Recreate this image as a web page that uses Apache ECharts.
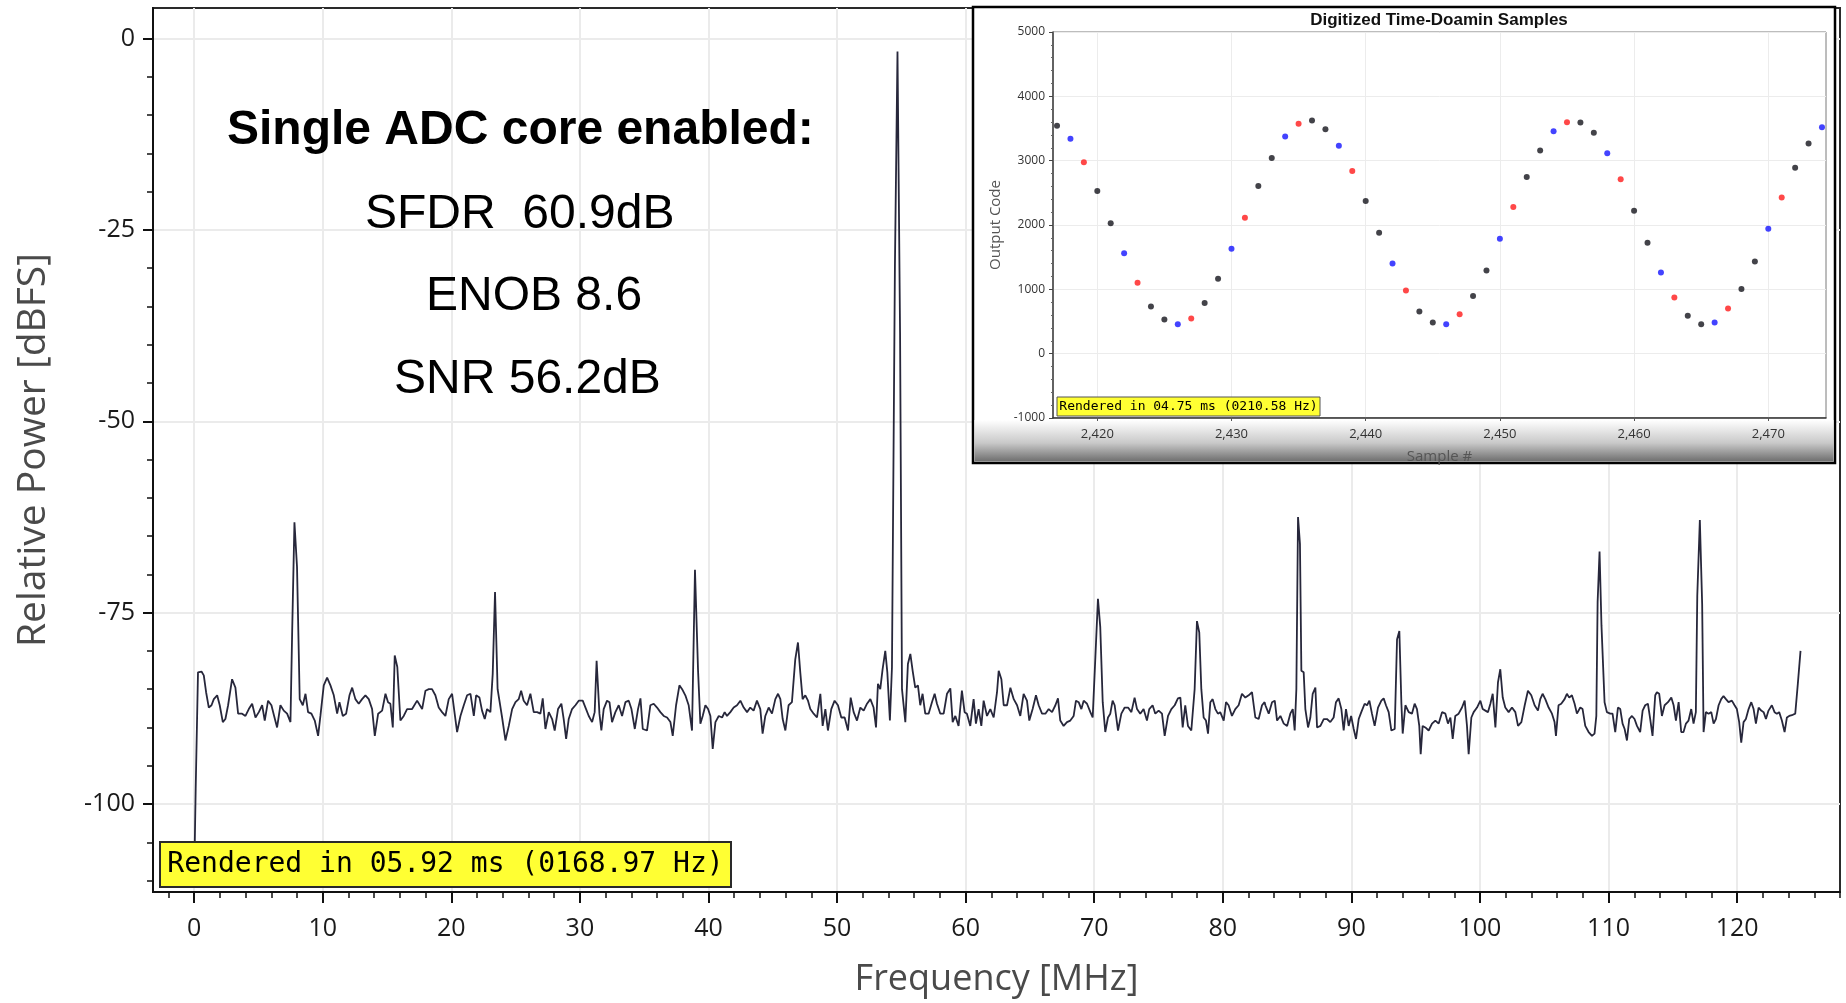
<!DOCTYPE html>
<html>
<head>
<meta charset="utf-8">
<title>Single ADC core spectrum</title>
<script src="https://cdn.jsdelivr.net/npm/echarts@6/dist/echarts.min.js"></script>
<style>
html, body { margin: 0; padding: 0; background: #fff; }
#fft { width: 1846px; height: 1003px; }
</style>
</head>
<body>
<div id="fft"></div>
<script type="text/javascript">
// FFT trace (MHz / dBFS)
var freqMHz = [
  0, 0.12, 0.3, 0.57, 0.75, 0.93, 1.14, 1.35, 1.53, 1.79,
  1.99, 2.23, 2.43, 2.64, 2.95, 3.21, 3.42, 3.73, 3.99, 4.25,
  4.51, 4.77, 5.03, 5.29, 5.49, 5.75, 6.01, 6.22, 6.45, 6.71,
  6.97, 7.23, 7.49, 7.62, 7.8, 8.0, 8.21, 8.45, 8.66, 8.86,
  9.12, 9.38, 9.64, 9.82, 10.08, 10.34, 10.6, 10.86, 11.12, 11.3,
  11.56, 11.82, 12.08, 12.29, 12.54, 12.8, 13.06, 13.32, 13.58, 13.84,
  14.05, 14.31, 14.62, 14.88, 15.08, 15.26, 15.45, 15.6, 15.8, 16.04,
  16.3, 16.56, 16.95, 17.34, 17.73, 17.99, 18.25, 18.5, 18.76, 19.02,
  19.28, 19.54, 19.8, 20.06,
  20.45, 20.71, 20.97, 21.23, 21.49, 21.75, 21.93, 22.19, 22.39, 22.6,
  22.78, 23.04, 23.22, 23.4, 23.6, 23.95, 24.21, 24.47, 24.73, 24.99,
  25.24, 25.43, 25.63, 25.89, 26.15, 26.41, 26.67, 26.93, 27.11, 27.32,
  27.58, 27.84, 28.04, 28.3, 28.56, 28.74, 28.93, 29.13, 29.39, 29.65,
  29.91, 30.22, 30.48, 30.69, 30.95, 31.15, 31.3, 31.52, 31.67, 31.85,
  32.11, 32.3, 32.5, 32.76, 33.02, 33.28, 33.54, 33.8, 34.01, 34.27,
  34.52, 34.71, 34.89, 35.22, 35.48, 35.74, 36.0, 36.26, 36.52, 36.78,
  37.04, 37.22, 37.48, 37.74, 37.95, 38.2, 38.46, 38.72, 38.95, 39.19,
  39.37, 39.55, 39.76, 39.97, 40.15, 40.33, 40.54, 40.8, 41.06, 41.26,
  41.44, 41.7, 41.96, 42.22, 42.48, 42.74, 43.0, 43.25, 43.51, 43.77,
  44.03, 44.21, 44.42, 44.68, 44.94, 45.2, 45.41, 45.59, 45.77, 45.98,
  46.23, 46.49, 46.75, 46.96, 47.14, 47.32, 47.53, 47.74, 47.92, 48.18,
  48.44, 48.7, 48.88, 49.09, 49.29, 49.55, 49.81, 50.07, 50.33, 50.59,
  50.85, 51.06, 51.29, 51.55, 51.81, 52.07, 52.33, 52.59, 52.84, 53.03,
  53.18, 53.36, 53.54, 53.75, 53.91, 54.11, 54.27, 54.5, 54.7, 54.9,
  55.05, 55.31, 55.51, 55.7, 55.88, 56.08, 56.29, 56.47, 56.65, 56.86,
  57.12, 57.38, 57.59, 57.77, 58.03, 58.29, 58.55, 58.81, 58.99, 59.2,
  59.45, 59.71, 59.92, 60.1, 60.36, 60.62, 60.8, 61.01, 61.22, 61.4,
  61.66, 61.92, 62.18,
  62.31, 62.44, 62.57, 62.78, 62.96, 63.22, 63.48, 63.74, 64.0, 64.25,
  64.51, 64.77, 64.95, 65.21, 65.47, 65.68, 65.94, 66.2, 66.46, 66.72,
  66.98, 67.18, 67.36, 67.62, 67.88, 68.14, 68.4, 68.58, 68.79, 69.0,
  69.18, 69.44, 69.7, 69.88, 70.09, 70.29, 70.47, 70.66, 70.86, 71.07,
  71.25, 71.43, 71.59, 71.85, 72.11, 72.37, 72.63, 72.89, 73.14, 73.33,
  73.58, 73.84, 74.1, 74.28, 74.54, 74.75, 75.01, 75.27, 75.48, 75.74,
  76.0, 76.26, 76.51, 76.7, 76.88, 77.08, 77.29, 77.55, 77.81, 77.99,
  78.17, 78.33, 78.51, 78.69, 78.85, 79.03, 79.21, 79.42, 79.62, 79.8,
  80.07, 80.25, 80.45, 80.71, 80.97, 81.23, 81.49, 81.75, 82.01, 82.27,
  82.53, 82.79, 83.05, 83.25,
  83.31, 83.57, 83.83, 84.04, 84.22, 84.48, 84.74, 85.0, 85.25, 85.44,
  85.59, 85.72, 85.85, 86.0, 86.11, 86.29, 86.42, 86.63, 86.81, 86.99,
  87.2, 87.33, 87.59, 87.85, 88.1, 88.36, 88.62, 88.8, 89.01, 89.22,
  89.4, 89.58, 89.79, 89.98, 90.18, 90.36, 90.57, 90.77, 91.03, 91.22,
  91.4, 91.6, 91.81, 92.07, 92.33, 92.51, 92.69, 92.9, 93.11, 93.37,
  93.55, 93.73, 93.89, 93.99, 94.2, 94.46, 94.71, 94.92, 95.1, 95.28,
  95.39, 95.54, 95.75, 96.01, 96.27, 96.53, 96.79, 97.05, 97.31, 97.51,
  97.7, 97.88, 98.08, 98.34, 98.6, 98.81, 98.99, 99.12, 99.33, 99.51,
  99.77, 100.03, 100.21, 100.42, 100.62, 100.81, 100.99, 101.2, 101.4, 101.58,
  101.77, 101.97, 102.23, 102.49, 102.75, 102.96, 103.22, 103.48, 103.73, 103.99,
  104.25,
  104.51, 104.69, 104.87, 105.08, 105.34, 105.6, 105.8, 105.91, 106.11, 106.32,
  106.58, 106.76, 106.94, 107.15, 107.36, 107.54, 107.8, 107.98, 108.19, 108.45,
  108.71, 108.91, 109.05, 109.15, 109.3, 109.45, 109.69, 109.87, 110.13, 110.31,
  110.52, 110.73, 110.91, 111.09, 111.25, 111.43, 111.61, 111.82, 112.02, 112.21,
  112.46, 112.65, 112.85, 113.06, 113.24, 113.42, 113.63, 113.76, 113.94, 114.15,
  114.36, 114.62, 114.88, 115.06, 115.24, 115.45, 115.65, 115.83, 116.02, 116.22,
  116.43, 116.61, 116.79, 116.9, 117.1, 117.28, 117.39, 117.57, 117.78, 117.99,
  118.17, 118.35, 118.56, 118.76, 118.94, 119.13, 119.33, 119.59, 119.8, 119.98,
  120.16, 120.32, 120.5, 120.68, 120.89, 121.1, 121.28, 121.46, 121.67, 121.87,
  122.06, 122.24, 122.44, 122.7, 122.91, 123.09, 123.27, 123.48, 123.69, 123.87,
  124.05, 124.26, 124.52, 124.72, 124.93
];
var powerDb = [
  -110, -98, -82.8, -82.7, -83.2, -85.4, -87.4, -87.1, -86.3, -85.8,
  -87.1, -89.3, -88.9, -87.1, -83.7, -84.8, -88.2, -88.2, -88.5, -87.6,
  -86.9, -88.7, -88.0, -87.1, -89.1, -86.5, -87.1, -88.5, -90.0, -87.1,
  -87.8, -88.2, -89.3, -77.8, -63.2, -69.0, -86.3, -87.1, -85.6, -88.0,
  -88.2, -89.1, -91.1, -88.5, -84.5, -83.5, -84.5, -85.8, -88.2, -86.7,
  -88.5, -88.2, -85.8, -84.8, -86.3, -86.9, -86.3, -85.8, -86.3, -87.6,
  -91.1, -88.2, -87.8, -85.6, -86.7, -86.9, -90.0, -80.6, -82.1, -89.1,
  -88.5, -87.6, -87.6, -86.5, -87.6, -85.2, -85.0, -85.0, -85.8, -87.4,
  -88.0, -88.5, -86.3, -85.6,
  -90.6, -88.5, -87.1, -85.8, -85.6, -88.5, -85.8, -86.1, -87.8, -88.9,
  -87.6, -88.0, -83.0, -72.3, -85.0, -88.7, -91.7, -89.8, -87.6, -86.7,
  -86.3, -85.2, -86.5, -87.1, -85.6, -88.0, -88.0, -88.2, -86.2, -90.2,
  -88.0, -88.9, -90.4, -87.6, -86.9, -88.9, -91.5, -88.9, -87.6, -87.1,
  -86.5, -86.5, -87.6, -88.5, -89.3, -88.0, -81.3, -88.2, -90.4, -87.6,
  -86.5, -86.7, -89.3, -88.0, -87.1, -88.5, -86.7, -86.5, -87.6, -90.2,
  -87.6, -86.2, -90.2, -90.4, -87.1, -86.9, -87.4, -88.0, -88.5, -88.7,
  -89.3, -91.1, -87.1, -84.5, -85.0, -85.8, -87.1, -90.4, -69.4, -82.6,
  -89.5, -88.5, -87.1, -87.6, -88.5, -92.8, -89.3, -88.5, -88.7, -88.0,
  -88.5, -88.0, -87.4, -87.1, -86.5, -87.4, -88.0, -87.4, -87.8, -86.5,
  -87.6, -90.8, -88.5, -87.4, -88.2, -86.3, -85.6, -86.3, -88.9, -90.4,
  -87.1, -86.7, -81.1, -78.9, -82.8, -86.3, -85.8, -86.5, -87.6, -88.2,
  -88.7, -85.6, -89.8, -87.6, -90.4, -87.6, -86.5, -87.1, -88.7, -88.7,
  -90.4, -86.1, -88.0, -89.1, -87.4, -87.8, -86.9, -86.3, -87.4, -90.0,
  -84.3, -85.0, -82.4, -80.0, -82.8, -89.1, -82.1, -29.7, -1.7, -38.4,
  -85.0, -89.3, -81.7, -80.4, -82.6, -84.8, -84.5, -87.1, -85.6, -88.2,
  -88.2, -86.7, -85.6, -86.9, -88.2, -88.2, -85.6, -84.9, -89.3, -88.5,
  -89.8, -85.2, -88.0, -88.2, -89.8, -86.3, -89.5, -87.6, -89.8, -86.5,
  -88.5, -87.6, -88.7,
  -88.9, -85.4, -82.6, -83.7, -87.1, -87.1, -84.8, -86.3, -87.1, -88.5,
  -85.6, -86.5, -89.1, -87.6, -85.8, -87.1, -88.2, -88.2, -87.6, -88.0,
  -87.1, -86.2, -89.1, -89.8, -89.3, -89.1, -88.5, -86.5, -86.7, -87.6,
  -86.5, -86.9, -88.0, -88.7, -80.8, -73.2, -76.9, -86.7, -90.6, -88.7,
  -88.2, -86.5, -87.1, -90.4, -88.2, -87.4, -87.4, -88.0, -86.1, -87.6,
  -88.2, -87.6, -89.1, -87.6, -87.1, -88.2, -87.8, -88.2, -91.1, -88.5,
  -87.6, -87.1, -86.2, -86.1, -90.0, -87.1, -89.8, -90.4, -85.0, -76.1,
  -77.6, -85.0, -88.7, -89.1, -90.8, -86.7, -86.3, -87.6, -88.2, -88.0,
  -89.1, -86.7, -87.1, -88.5, -87.6, -87.1, -85.6, -86.1, -85.8, -85.4,
  -88.7, -88.9, -87.1, -86.7,
  -87.1, -88.2, -86.7, -86.5, -89.1, -88.5, -89.5, -89.8, -88.2, -87.6,
  -90.4, -85.0, -62.5, -66.0, -82.6, -82.8, -87.6, -90.0, -88.7, -85.6,
  -84.8, -90.0, -89.8, -88.9, -88.9, -89.3, -88.7, -86.7, -86.2, -87.6,
  -90.4, -87.6, -89.8, -88.5, -90.2, -91.5, -88.9, -88.0, -86.9, -87.1,
  -86.5, -88.2, -89.8, -87.4, -86.5, -86.2, -87.1, -88.0, -90.4, -90.2,
  -78.5, -77.4, -86.9, -90.8, -87.1, -88.0, -88.2, -86.9, -87.6, -89.8,
  -93.5, -89.8, -90.0, -90.4, -89.5, -89.1, -89.5, -88.0, -88.2, -89.5,
  -88.7, -91.5, -88.5, -88.2, -87.4, -86.5, -89.8, -93.5, -88.7, -88.0,
  -87.4, -86.5, -87.6, -87.8, -88.0, -86.9, -85.6, -90.0, -84.1, -82.4,
  -86.1, -87.4, -88.0, -87.4, -88.0, -89.8, -89.3, -87.1, -85.2, -85.8,
  -87.1,
  -87.8, -86.3, -85.6, -86.3, -87.4, -88.2, -89.3, -91.1, -87.1, -86.9,
  -86.3, -85.6, -86.1, -85.8, -86.9, -88.2, -87.4, -87.6, -89.8, -90.6,
  -91.1, -90.8, -88.5, -73.6, -67.0, -76.7, -86.7, -88.0, -88.2, -88.2,
  -90.6, -87.4, -87.6, -89.5, -90.2, -91.7, -88.9, -88.5, -88.9, -89.8,
  -90.6, -87.8, -87.1, -86.9, -88.9, -91.1, -85.8, -85.4, -85.6, -88.5,
  -87.1, -86.7, -86.1, -87.1, -89.1, -86.7, -90.6, -90.6, -89.5, -89.1,
  -87.6, -89.5, -88.0, -72.8, -62.9, -73.9, -90.6, -88.0, -88.2, -88.0,
  -89.5, -88.9, -87.1, -86.3, -85.9, -86.3, -86.7, -86.5, -87.1, -87.6,
  -89.3, -92.0, -89.3, -88.9, -87.6, -86.7, -87.6, -89.5, -87.4, -87.8,
  -88.0, -88.9, -87.8, -87.1, -88.0, -88.2, -88.0, -89.1, -90.6, -88.7,
  -88.5, -88.4, -88.2, -84.3, -80.0
];
var freqTicks = [0, 10, 20, 30, 40, 50, 60, 70, 80, 90, 100, 110, 120];
var dbTicks = [0, -25, -50, -75, -100];

// inset: digitized time-domain samples
var sampleNo = [
  2417, 2418, 2419, 2420, 2421, 2422, 2423, 2424, 2425, 2426,
  2427, 2428, 2429, 2430, 2431, 2432, 2433, 2434, 2435, 2436,
  2437, 2438, 2439, 2440, 2441, 2442, 2443, 2444, 2445, 2446,
  2447, 2448, 2449, 2450, 2451, 2452, 2453, 2454, 2455, 2456,
  2457, 2458, 2459, 2460, 2461, 2462, 2463, 2464, 2465, 2466,
  2467, 2468, 2469, 2470, 2471, 2472, 2473, 2474
];
var outputCode = [
  3542, 3339, 2976, 2530, 2026, 1559, 1102, 734, 531, 459,
  547, 786, 1165, 1632, 2114, 2607, 3043, 3376, 3573, 3625,
  3490, 3230, 2841, 2374, 1881, 1403, 983, 656, 485, 459,
  614, 895, 1294, 1787, 2280, 2748, 3158, 3459, 3599, 3594,
  3433, 3116, 2711, 2223, 1725, 1263, 874, 589, 459, 485,
  703, 1004, 1434, 1943, 2426, 2888, 3267, 3521
];
var sampleLane = [
  'k', 'b', 'r', 'k', 'k', 'b', 'r', 'k', 'k', 'b', 'r', 'k',
  'k', 'b', 'r', 'k', 'k', 'b', 'r', 'k', 'k', 'b', 'r', 'k',
  'k', 'b', 'r', 'k', 'k', 'b', 'r', 'k', 'k', 'b', 'r', 'k',
  'k', 'b', 'r', 'k', 'k', 'b', 'r', 'k', 'k', 'b', 'r', 'k',
  'k', 'b', 'r', 'k', 'k', 'b', 'r', 'k', 'k', 'b'
];
var sampleTicks = [2420, 2430, 2440, 2450, 2460, 2470];

var laneColor = { k: '#14141c', b: '#1414ff', r: '#ff1a1a' };

// minor ticks (every 2 MHz / every 5 dB)
var freqMinor = [];
for (var f = -2; f <= 128; f += 2) freqMinor.push(f);
var dbMinor = [];
for (var d = 0; d >= -110; d -= 5) dbMinor.push(d);

function laneData(lane) {
  var out = [];
  for (var i = 0; i < sampleNo.length; i++) {
    if (sampleLane[i] === lane) out.push([sampleNo[i], outputCode[i]]);
  }
  return out;
}

var trace = [];
for (var i = 0; i < freqMHz.length; i++) trace.push([freqMHz[i], powerDb[i]]);

var uiFont = 'Open Sans';

var chart = echarts.init(document.getElementById('fft'));
chart.setOption({
  animation: false,
  backgroundColor: '#fff',
  grid: [
    { left: 153, top: 8, right: 6, bottom: 110, show: true, borderColor: '#2a2a2a', borderWidth: 2, z: 0 },
    { left: 1053, top: 32, width: 773, height: 386, show: true, borderColor: '#7a7a7a', borderWidth: 1, z: 7 }
  ],
  xAxis: [
    {
      gridIndex: 0, type: 'value', min: -3.2, max: 128, position: 'bottom',
      name: 'Frequency [MHz]', nameLocation: 'middle', nameGap: 70,
      nameTextStyle: { fontFamily: uiFont, fontSize: 36, color: '#4a4a4a' },
      axisLine: { show: true, onZero: false, lineStyle: { color: '#111', width: 2 } },
      axisTick: { show: true, customValues: freqTicks, length: 11, lineStyle: { color: '#111', width: 2 } },
      axisLabel: { customValues: freqTicks, margin: 24, fontFamily: uiFont, fontSize: 25, color: '#1a1a1a' },
      splitLine: { show: true, lineStyle: { color: '#ebebeb', width: 2 } }
    },
    {
      gridIndex: 0, type: 'value', min: -3.2, max: 128, position: 'bottom',
      axisLine: { show: false, onZero: false },
      axisTick: { show: true, customValues: freqMinor, length: 6, lineStyle: { color: '#111', width: 1.5 } },
      axisLabel: { show: false },
      splitLine: { show: false }
    },
    {
      gridIndex: 1, type: 'value', min: 2416.7, max: 2474.3, position: 'bottom', z: 8,
      name: 'Sample #', nameLocation: 'middle', nameGap: 31,
      nameTextStyle: { fontFamily: uiFont, fontSize: 15, color: '#555' },
      axisLine: { show: true, onZero: false, lineStyle: { color: '#333', width: 1.5 } },
      axisTick: { show: true, customValues: sampleTicks, length: 3, lineStyle: { color: '#555' } },
      axisLabel: { customValues: sampleTicks, margin: 10, fontFamily: uiFont, fontSize: 13, color: '#333' },
      splitLine: { show: true, lineStyle: { color: '#ececec', width: 1 } }
    }
  ],
  yAxis: [
    {
      gridIndex: 0, type: 'value', min: -111.5, max: 4, position: 'left',
      name: 'Relative Power [dBFS]', nameLocation: 'middle', nameGap: 100,
      nameTextStyle: { fontFamily: uiFont, fontSize: 39, color: '#4a4a4a' },
      axisLine: { show: true, onZero: false, lineStyle: { color: '#111', width: 2 } },
      axisTick: { show: true, customValues: dbTicks, length: 10, lineStyle: { color: '#111', width: 2 } },
      axisLabel: { customValues: dbTicks, margin: 18, fontFamily: uiFont, fontSize: 25, color: '#1a1a1a' },
      splitLine: { show: true, lineStyle: { color: '#ebebeb', width: 2 } }
    },
    {
      gridIndex: 0, type: 'value', min: -111.5, max: 4, position: 'left',
      axisLine: { show: false, onZero: false },
      axisTick: { show: true, customValues: dbMinor, length: 6, lineStyle: { color: '#111', width: 1.5 } },
      axisLabel: { show: false },
      splitLine: { show: false }
    },
    {
      gridIndex: 1, type: 'value', min: -1000, max: 5000, interval: 1000, position: 'left', z: 8,
      name: 'Output Code', nameLocation: 'middle', nameGap: 50,
      nameTextStyle: { fontFamily: uiFont, fontSize: 15, color: '#555' },
      axisLine: { show: true, onZero: false, lineStyle: { color: '#444', width: 1.5 } },
      axisTick: { show: true, length: 4, lineStyle: { color: '#444' } },
      minorTick: { show: true, splitNumber: 5, length: 2, lineStyle: { color: '#666' } },
      axisLabel: { margin: 8, fontFamily: uiFont, fontSize: 12, color: '#333',
        formatter: function (v) { return String(v); } },
      splitLine: { show: true, lineStyle: { color: '#ececec', width: 1 } }
    }
  ],
  series: [
    {
      name: 'FFT', type: 'line', xAxisIndex: 0, yAxisIndex: 0,
      data: trace, showSymbol: false, symbol: 'none', silent: true, z: 2,
      lineStyle: { color: '#27273b', width: 1.8 }
    },
    {
      name: 'core A', type: 'scatter', xAxisIndex: 2, yAxisIndex: 2, z: 9,
      data: laneData('k'), symbolSize: 6, itemStyle: { color: laneColor.k }
    },
    {
      name: 'core B', type: 'scatter', xAxisIndex: 2, yAxisIndex: 2, z: 9,
      data: laneData('b'), symbolSize: 6, itemStyle: { color: laneColor.b }
    },
    {
      name: 'core C', type: 'scatter', xAxisIndex: 2, yAxisIndex: 2, z: 9,
      data: laneData('r'), symbolSize: 6, itemStyle: { color: laneColor.r }
    }
  ],
  graphic: [
    // inset panel + grey band at its bottom
    { type: 'rect', z: 5, shape: { x: 973, y: 7, width: 862, height: 456 },
      style: { fill: '#fff', stroke: '#000', lineWidth: 2.5 } },
    { type: 'rect', z: 6, shape: { x: 974.5, y: 420, width: 859, height: 41.5 },
      style: { fill: new echarts.graphic.LinearGradient(0, 0, 0, 1, [
        { offset: 0, color: '#ffffff' }, { offset: 0.55, color: '#c9c9c9' }, { offset: 1, color: '#6e6e6e' }
      ]) } },
    { type: 'text', z: 20, x: 1439, y: 20,
      style: { text: 'Digitized Time-Doamin Samples', font: 'bold 17px "Liberation Sans"', fill: '#111',
        align: 'center', verticalAlign: 'middle' } },
    // annotation block
    { type: 'text', z: 10, x: 227, y: 131,
      style: { text: 'Single ADC core enabled:', font: 'bold 48px "Liberation Sans"', fill: '#000', verticalAlign: 'middle' } },
    { type: 'text', z: 10, x: 365, y: 215,
      style: { text: 'SFDR  60.9dB', font: '48px "Liberation Sans"', fill: '#000', verticalAlign: 'middle' } },
    { type: 'text', z: 10, x: 426, y: 297,
      style: { text: 'ENOB 8.6', font: '48px "Liberation Sans"', fill: '#000', verticalAlign: 'middle' } },
    { type: 'text', z: 10, x: 394, y: 380,
      style: { text: 'SNR 56.2dB', font: '48px "Liberation Sans"', fill: '#000', verticalAlign: 'middle' } },
    // render-time tags
    { type: 'rect', z: 10, shape: { x: 160, y: 842, width: 571, height: 45 },
      style: { fill: '#ffff33', stroke: '#2a2a2a', lineWidth: 2 } },
    { type: 'text', z: 11, x: 445.5, y: 865,
      style: { text: 'Rendered in 05.92 ms (0168.97 Hz)', font: '28px "DejaVu Sans Mono"', fill: '#000',
        align: 'center', verticalAlign: 'middle' } },
    { type: 'rect', z: 10, shape: { x: 1057, y: 397, width: 263, height: 19 },
      style: { fill: '#ffff33', stroke: '#555', lineWidth: 1 } },
    { type: 'text', z: 11, x: 1188.5, y: 406.5,
      style: { text: 'Rendered in 04.75 ms (0210.58 Hz)', font: '13px "DejaVu Sans Mono"', fill: '#000',
        align: 'center', verticalAlign: 'middle' } }
  ]
});

window.addEventListener('resize', function () { chart.resize(); });
</script>
</body>
</html>
